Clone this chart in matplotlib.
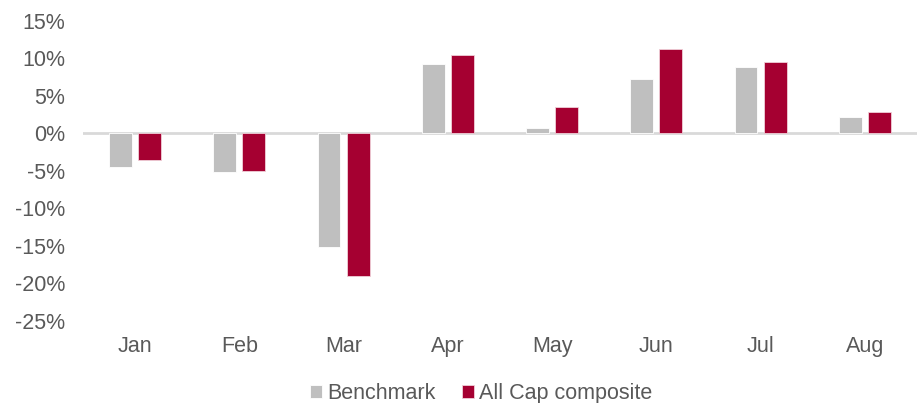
import numpy as np
import matplotlib
matplotlib.use('Agg')
import matplotlib.pyplot as plt
from matplotlib.ticker import FuncFormatter

plt.rcParams['font.family'] = ['Liberation Sans', 'DejaVu Sans']

# data (monthly returns, %)
months = ['Jan', 'Feb', 'Mar', 'Apr', 'May', 'Jun', 'Jul', 'Aug']
benchmark = [-4.5, -5.2, -15.2, 9.2, 0.7, 7.3, 8.9, 2.2]
composite = [-3.5, -5.0, -19.0, 10.5, 3.5, 11.2, 9.5, 2.9]

grey = '#BFBFBF'
red = '#A50031'
txt = '#595959'

fig = plt.figure(figsize=(9.17, 4.03), dpi=100)
ax = fig.add_axes([0.0905, 0.2035, 0.9095, 0.7445])

x = np.arange(len(months))
w = 0.22
gap = 0.06
ax.bar(x - (w + gap) / 2, benchmark, w, color=grey, edgecolor='white', linewidth=0.6, label='Benchmark')
ax.bar(x + (w + gap) / 2, composite, w, color=red, edgecolor='#f0d0d8', linewidth=0.6, label='All Cap composite')

ax.set_xlim(-0.5, len(months) - 0.5)
ax.set_ylim(-25, 15)
ax.set_yticks(np.arange(-25, 16, 5))
ax.yaxis.set_major_formatter(FuncFormatter(lambda v, p: f'{v:.0f}%'))
ax.set_xticks(x)
ax.set_xticklabels(months)

for s in ['top', 'right', 'left', 'bottom']:
    ax.spines[s].set_visible(False)
ax.axhline(0, color='#D9D9D9', linewidth=2, zorder=0)
ax.tick_params(axis='both', length=0, labelsize=15.5, colors=txt)
ax.tick_params(axis='y', pad=13)
ax.tick_params(axis='x', pad=11)

leg = fig.legend(loc='lower center', bbox_to_anchor=(0.525, -0.05), ncol=2, frameon=False,
                 fontsize=15.5, handlelength=0.55, handleheight=0.55, handletextpad=0.25,
                 columnspacing=1.2)
for t in leg.get_texts():
    t.set_color(txt)

fig.savefig('out.png', dpi=100)
